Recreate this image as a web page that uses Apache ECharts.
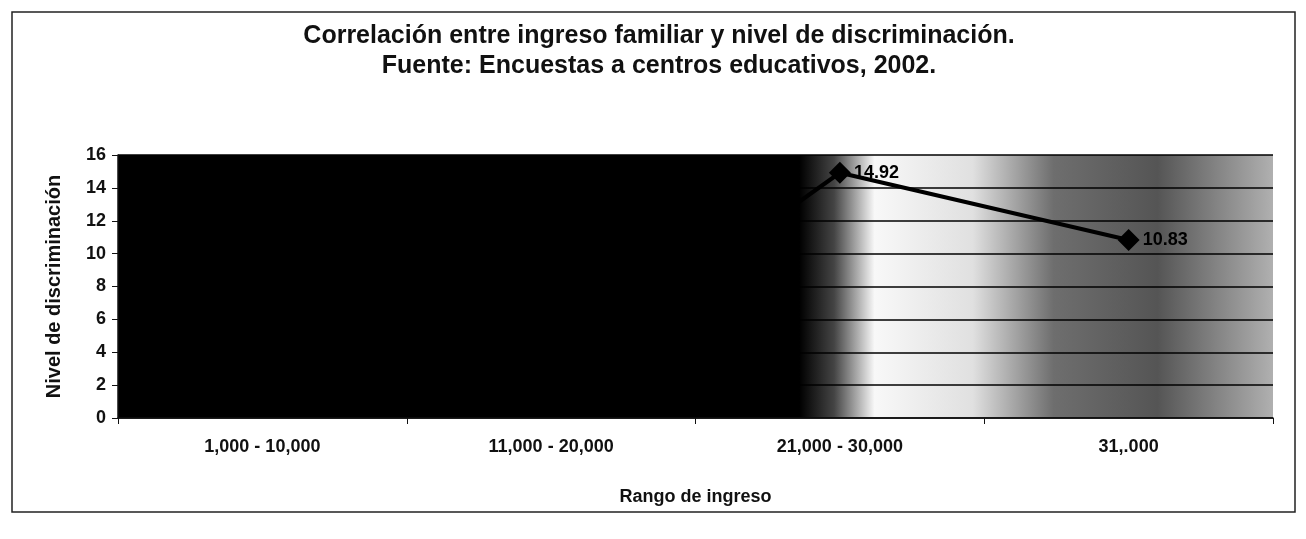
<!DOCTYPE html>
<html>
<head>
<meta charset="utf-8">
<script src="https://cdn.jsdelivr.net/npm/echarts@6/dist/echarts.min.js"></script>
<style>
    html, body { margin: 0; padding: 0; background: #fff; }
    #chart { width: 1306px; height: 539px; }
</style>
</head>
<body>
<div id="chart"></div>
<script>
    // datos
    var categorias = ['1,000 - 10,000', '11,000 - 20,000', '21,000 - 30,000', '31,.000'];
    var nivel = [4.6, 2.4, 14.92, 10.83];
    var ticksY = [0, 2, 4, 6, 8, 10, 12, 14, 16];

    var chart = echarts.init(document.getElementById('chart'));
    var fuente = '"Liberation Sans", Arial, sans-serif';

    var option = {
        backgroundColor: '#fff',
        animation: false,
        textStyle: { fontFamily: fuente },
        title: {
            text: 'Correlación entre ingreso familiar y nivel de discriminación.\nFuente: Encuestas a centros educativos, 2002.',
            left: 654,
            top: 16,
            textAlign: 'center',
            textStyle: {
                fontFamily: fuente,
                fontSize: 25,
                fontWeight: 'bold',
                color: '#111',
                lineHeight: 30
            }
        },
        graphic: [{
            type: 'rect',
            shape: { x: 12, y: 12, width: 1283, height: 500 },
            style: { fill: 'none', stroke: '#222', lineWidth: 1.5 },
            silent: true
        }],
        grid: {
            left: 118,
            right: 33,
            top: 155,
            bottom: 121,
            show: true,
            borderWidth: 0,
            // fondo degradado negro -> blanco -> gris
            backgroundColor: new echarts.graphic.LinearGradient(0, 0, 1, 0, [
                { offset: 0, color: '#000' },
                { offset: 0.59, color: '#000' },
                { offset: 0.62, color: '#444' },
                { offset: 0.655, color: '#f8f8f8' },
                { offset: 0.74, color: '#e0e0e0' },
                { offset: 0.81, color: '#6e6e6e' },
                { offset: 0.90, color: '#555' },
                { offset: 1, color: '#b0b0b0' }
            ])
        },
        xAxis: {
            type: 'category',
            data: categorias,
            boundaryGap: true,
            name: 'Rango de ingreso',
            nameLocation: 'middle',
            nameGap: 70,
            nameTextStyle: { fontSize: 18, fontWeight: 'bold', color: '#111' },
            axisLine: { lineStyle: { color: '#111', width: 1.5 } },
            axisTick: { show: true, length: 6, lineStyle: { color: '#111' } },
            axisLabel: { fontSize: 18, fontWeight: 'bold', color: '#111', margin: 20 },
            splitLine: { show: false }
        },
        yAxis: {
            type: 'value',
            min: ticksY[0],
            max: ticksY[ticksY.length - 1],
            interval: 2,
            name: 'Nivel de discriminación',
            nameLocation: 'middle',
            nameGap: 54,
            nameTextStyle: { fontSize: 20, fontWeight: 'bold', color: '#111' },
            axisLine: { show: true, lineStyle: { color: '#111', width: 1.5 } },
            axisTick: { show: true, length: 6, lineStyle: { color: '#111' } },
            axisLabel: { fontSize: 18, fontWeight: 'bold', color: '#111', margin: 12 },
            splitLine: { show: true, lineStyle: { color: '#000', width: 1.5 } }
        },
        series: [{
            type: 'line',
            data: nivel,
            symbol: 'diamond',
            symbolSize: 22,
            lineStyle: { color: '#000', width: 4 },
            itemStyle: { color: '#000' },
            label: {
                show: true,
                position: 'right',
                distance: 3,
                fontSize: 18,
                fontWeight: 'bold',
                color: '#000'
            },
            z: 5
        }]
    };

    chart.setOption(option);
</script>
</body>
</html>
